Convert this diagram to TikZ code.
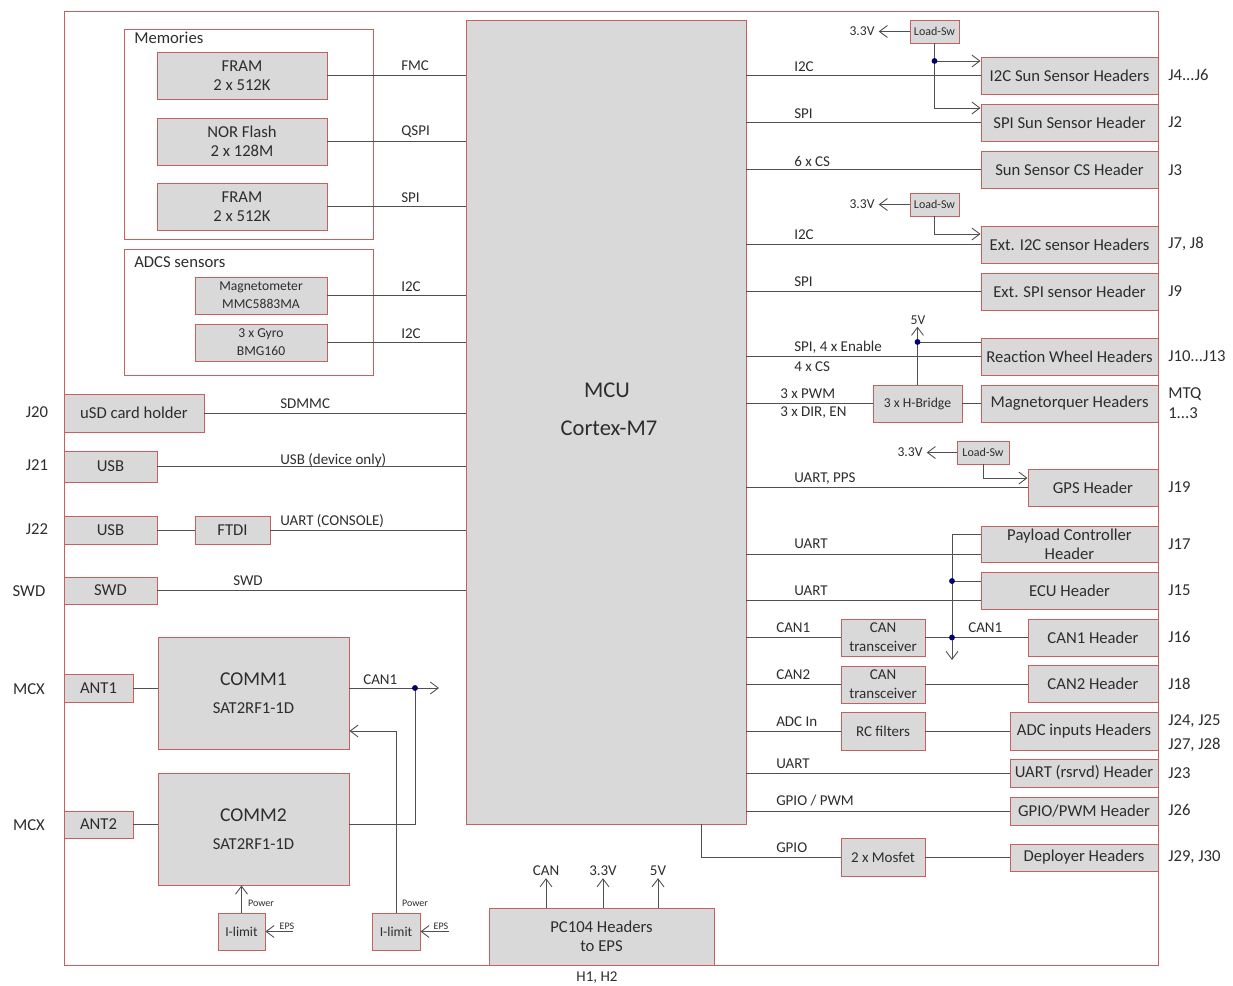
\documentclass[tikz,border=0pt]{standalone}
\usepackage{fontspec}
\setmainfont{Carlito}
\usetikzlibrary{arrows.meta}
\definecolor{bcol}{RGB}{196,96,96}
\definecolor{bfill}{RGB}{217,217,217}
\definecolor{lcol}{RGB}{80,80,80}
\definecolor{tcol}{RGB}{45,45,45}
\definecolor{dcol}{RGB}{0,0,110}
\newcommand\myfbox{\fontsize{12.5}{14.2}\selectfont}
\newcommand\myflab{\fontsize{11.25}{14}\selectfont}
\newcommand\myfmed{\fontsize{10.2}{13.5}\selectfont}
\newcommand\myfsml{\fontsize{9}{11}\selectfont}
\newcommand\myftny{\fontsize{7.5}{9}\selectfont}
\newcommand\myfbig{\fontsize{16.9}{20}\selectfont}
\newcommand\myfcomm{\fontsize{14.7}{17}\selectfont}
\newcommand\bx[7][]{\node[box,minimum width={(#5-#3)*0.75pt},minimum height={(#6-#4)*0.75pt},#1] (#2) at ({(#3+#5)/2},{(#4+#6)/2}) {#7};}
\begin{document}
\begin{tikzpicture}[x=0.75pt,y=-0.75pt,
  >={Straight Barb[length=6pt,width=9pt]},
  box/.style={draw=bcol,fill=bfill,line width=0.7pt,text=tcol,inner sep=1pt,align=center,font=\myfbox},
  grp/.style={draw=bcol,line width=0.7pt},
  ln/.style={draw=lcol,line width=0.65pt},
  arr/.style={ln,->},
  lab/.style={text=tcol,inner sep=0pt,anchor=west,font=\myflab},
  jl/.style={text=tcol,inner sep=0pt,font=\myfbox},
  jr/.style={text=tcol,inner sep=0pt,anchor=west,font=\myfbox},
  glab/.style={text=tcol,inner sep=0pt,anchor=west,font=\myfbox},
  vlab/.style={text=tcol,inner sep=3pt,font=\myfmed},
  blab/.style={text=tcol,inner sep=1.5pt,font=\myflab},
  tny/.style={text=tcol,inner sep=0pt,font=\myftny},
  dot/.style={fill=dcol}]
\useasboundingbox (0,0) rectangle (1233,986);
% outer frame and groups
\draw[grp] (64,11) rectangle (1158,965);
\draw[grp] (124,29) rectangle (373,239);
\node[glab] at (134,38) {Memories};
\draw[grp] (124,249) rectangle (373,375);
\node[glab] at (134,262) {ADCS sensors};
% MCU
\bx{mcu}{466}{20}{746}{824}{}
\node[text=tcol,font=\myfbig] at (607,390) {MCU};
\node[text=tcol,font=\myfbig] at (609,428) {Cortex-M7};
% left boxes
\bx{fram1}{157}{52}{327}{99}{FRAM\\2 x 512K}
\bx{nor}{157}{118}{327}{165}{NOR Flash\\2 x 128M}
\bx{fram2}{157}{183}{327}{230}{FRAM\\2 x 512K}
\bx[font=\myfmed]{mag}{195}{277}{327}{314}{Magnetometer\\MMC5883MA}
\bx[font=\myfmed]{gyro}{195}{324}{327}{361}{3 x Gyro\\BMG160}
\bx{usd}{64}{394}{204}{432}{uSD card holder}
\bx{usb1}{64}{451}{157}{482}{USB}
\bx{usb2}{64}{516}{157}{544}{USB}
\bx{ftdi}{195}{516}{270}{544}{FTDI}
\bx{swd}{64}{577}{157}{604}{SWD}
\bx{ant1}{64}{674}{133}{702}{ANT1}
\bx{ant2}{64}{811}{133}{838}{ANT2}
\bx{comm1}{158}{637}{349}{749}{{\myfcomm COMM1}\\[7pt]SAT2RF1-1D}
\bx{comm2}{158}{773}{349}{885}{{\myfcomm COMM2}\\[7pt]SAT2RF1-1D}
\bx[font=\myfmed]{il1}{218}{913}{265}{950}{I-limit}
\bx[font=\myfmed]{il2}{372}{913}{420}{950}{I-limit}
\bx{pc}{489}{908}{714}{965}{PC104 Headers\\to EPS}
% left connectors
\draw[ln] (fram1.east) -- (fram1.east -| mcu.west);
\draw[ln] (nor.east) -- (nor.east -| mcu.west);
\draw[ln] (fram2.east) -- (fram2.east -| mcu.west);
\draw[ln] (mag.east) -- (mag.east -| mcu.west);
\draw[ln] (gyro.east) -- (gyro.east -| mcu.west);
\draw[ln] (usd.east) -- (usd.east -| mcu.west);
\draw[ln] (usb1.east) -- (usb1.east -| mcu.west);
\draw[ln] (usb2.east) -- (ftdi.west);
\draw[ln] (ftdi.east) -- (ftdi.east -| mcu.west);
\draw[ln] (swd.east) -- (swd.east -| mcu.west);
\node[lab] at (401,66) {FMC};
\node[lab] at (401,132) {QSPI};
\node[lab] at (401,198) {SPI};
\node[lab] at (401,287) {I2C};
\node[lab] at (401,334) {I2C};
\node[lab] at (280,404) {SDMMC};
\node[lab] at (280,460) {USB (device only)};
\node[lab] at (280,521) {UART (CONSOLE)};
\node[lab] at (233,581) {SWD};
\node[jl] at (37,412) {J20};
\node[jl] at (37,465) {J21};
\node[jl] at (37,529) {J22};
\node[jl] at (29,591) {SWD};
\node[jl] at (29,689) {MCX};
\node[jl] at (29,825) {MCX};
% COMM connections
\coordinate (cdot) at (415,688);
\coordinate (ctip) at (439,688);
\draw[ln] (ant1.east) -- (ant1.east -| comm1.west);
\draw[ln] (ant2.east) -- (ant2.east -| comm2.west);
\draw[arr] (comm1.east |- cdot) -- (ctip);
\draw[ln] (cdot) |- (ant2.east -| comm2.east);
\fill[dot] (cdot) circle (2.2pt);
\node[lab] at (363,680) {CAN1};
\coordinate (c1pw) at ([yshift=-28.5pt]comm1.east);
\draw[arr] (il2.north) |- (c1pw);
\draw[arr] (il1.north) -- (il1.north |- comm2.south);
\coordinate (eps1) at ([xshift=21pt]il1.east);
\coordinate (eps2) at ([xshift=21.75pt]il2.east);
\draw[arr] (eps1) -- (il1.east);
\draw[arr] (eps2) -- (il2.east);
\node[tny] at (261,903) {Power};
\node[tny] at (415,903) {Power};
\node[tny] at (287,926) {EPS};
\node[tny] at (441,926) {EPS};
% PC104
\node[blab] (lcan) at (546,871) {CAN};
\node[blab] (l33) at (603,871) {3.3V};
\node[blab] (l5) at (658,871) {5V};
\draw[arr] (pc.north -| lcan) -- (lcan.south);
\draw[arr] (pc.north -| l33) -- (l33.south);
\draw[arr] (pc.north -| l5) -- (l5.south);
\node[blab] at (597,978) {H1, H2};
% right boxes
\bx{h1}{981}{57}{1158}{94}{I2C Sun Sensor Headers}
\bx{h2}{981}{104}{1158}{141}{SPI Sun Sensor Header}
\bx{h3}{981}{151}{1158}{188}{Sun Sensor CS Header}
\bx[font=\myfsml]{ls1}{910}{20}{959}{43}{Load-Sw}
\bx[font=\myfsml]{ls2}{910}{193}{959}{216}{Load-Sw}
\bx{h4}{981}{226}{1158}{263}{Ext. I2C sensor Headers}
\bx{h5}{981}{273}{1158}{310}{Ext. SPI sensor Header}
\bx{h6}{981}{338}{1158}{375}{Reaction Wheel Headers}
\bx[font=\myfmed]{hb}{873}{385}{962}{422}{3 x H-Bridge}
\bx{h7}{981}{385}{1158}{422}{Magnetorquer Headers}
\bx[font=\myfsml]{ls3}{957}{441}{1009}{464}{Load-Sw}
\bx{gps}{1028}{469}{1158}{506}{GPS Header}
\bx{pay}{981}{526}{1158}{562}{Payload Controller\\Header}
\bx{ecu}{981}{572}{1158}{609}{ECU Header}
\bx[font=\myflab]{ct1}{841}{619}{925}{656}{CAN\\transceiver}
\bx{c1h}{1028}{619}{1158}{656}{CAN1 Header}
\bx[font=\myflab]{ct2}{841}{666}{925}{703}{CAN\\transceiver}
\bx{c2h}{1028}{665}{1158}{702}{CAN2 Header}
\bx[font=\myflab]{rc}{841}{712}{925}{750}{RC filters}
\bx{adc}{1010}{712}{1158}{750}{ADC inputs Headers}
\bx{ur}{1010}{759}{1158}{787}{UART (rsrvd) Header}
\bx{gp}{1010}{797}{1158}{825}{GPIO/PWM Header}
\bx[font=\myflab]{mos}{841}{838}{925}{876}{2 x Mosfet}
\bx{dep}{1010}{844}{1158}{871}{Deployer Headers}
% right connectors
\draw[ln] (h1.west -| mcu.east) -- (h1.west);
\draw[ln] (h2.west -| mcu.east) -- (h2.west);
\draw[ln] (h3.west -| mcu.east) -- (h3.west);
\draw[ln] (h4.west -| mcu.east) -- (h4.west);
\draw[ln] (h5.west -| mcu.east) -- (h5.west);
\draw[ln] (h6.west -| mcu.east) -- (h6.west);
\draw[ln] (hb.west -| mcu.east) -- (hb.west);
\draw[ln] (hb.east) -- (hb.east -| h7.west);
\draw[ln] (gps.west -| mcu.east) -- (gps.west);
\coordinate (payin) at ([yshift=-7.5pt]pay.west);
\coordinate (paybus) at ([yshift=7.5pt]pay.west);
\coordinate (ecuin) at ([yshift=-7.1pt]ecu.west);
\coordinate (ecubus) at ([yshift=7.1pt]ecu.west);
\draw[ln] (payin -| mcu.east) -- (payin);
\draw[ln] (ecuin -| mcu.east) -- (ecuin);
\draw[ln] (ct1.west -| mcu.east) -- (ct1.west);
\draw[ln] (ct1.east) -- (ct1.east -| c1h.west);
\draw[ln] (ct2.west -| mcu.east) -- (ct2.west);
\draw[ln] (ct2.east) -- (ct2.east -| c2h.west);
\draw[ln] (rc.west -| mcu.east) -- (rc.west);
\draw[ln] (rc.east) -- (rc.east -| adc.west);
\draw[ln] (ur.west -| mcu.east) -- (ur.west);
\draw[ln] (gp.west -| mcu.east) -- (gp.west);
\coordinate (gpo) at (701,824);
\draw[ln] (gpo) |- (mos.west);
\draw[ln] (mos.east) -- (mos.east -| dep.west);
% bus
\coordinate (bend) at (952,660);
\draw[arr] (paybus) -| (bend);
\draw[ln] (bend |- ecubus) -- (ecubus);
\fill[dot] (bend |- ecubus) circle (2.2pt);
\fill[dot] (bend |- ct1.east) circle (2.2pt);
% load switches
\node[vlab] (v1) at (862,31) {3.3V};
\node[vlab] (v2) at (862,204) {3.3V};
\node[vlab] (v3) at (910,452) {3.3V};
\draw[arr] (ls1.west) -- (ls1.west -| v1.east);
\draw[arr] (ls2.west) -- (ls2.west -| v2.east);
\draw[arr] (ls3.west) -- (ls3.west -| v3.east);
\coordinate (h1p) at ([yshift=10.9pt]h1.west);
\coordinate (h2p) at ([yshift=10.9pt]h2.west);
\coordinate (h4p) at ([yshift=7.9pt]h4.west);
\coordinate (gpsp) at ([yshift=7.1pt]gps.west);
\draw[ln] (ls1.south) -- (ls1.south |- h1p);
\draw[arr] (ls1.south |- h1p) -- (h1p);
\draw[arr] (ls1.south |- h1p) |- (h2p);
\fill[dot] (ls1.south |- h1p) circle (2.2pt);
\draw[arr] (ls2.south) |- (h4p);
\draw[arr] (ls3.south) |- (gpsp);
% 5V
\coordinate (h6p) at ([yshift=10.9pt]h6.west);
\node[vlab,inner sep=1.5pt] (v5) at (918,320) {5V};
\draw[arr] (hb.north) -- (hb.north |- v5.south);
\draw[ln] (hb.north |- h6p) -- (h6p);
\fill[dot] (hb.north |- h6p) circle (2.2pt);
% right line labels
\node[lab] at (794,67) {I2C};
\node[lab] at (794,114) {SPI};
\node[lab] at (794,161) {6 x CS};
\node[lab] at (794,235) {I2C};
\node[lab] at (794,282) {SPI};
\node[lab] at (794,347) {SPI, 4 x Enable};
\node[lab] at (794,367) {4 x CS};
\node[lab] at (780,394) {3 x PWM};
\node[lab] at (780,413) {3 x DIR, EN};
\node[lab] at (794,479) {UART, PPS};
\node[lab] at (794,544) {UART};
\node[lab] at (794,591) {UART};
\node[lab] at (776,628) {CAN1};
\node[lab] at (968,628) {CAN1};
\node[lab] at (776,675) {CAN2};
\node[lab] at (776,722) {ADC In};
\node[lab] at (776,764) {UART};
\node[lab] at (776,801) {GPIO / PWM};
\node[lab] at (776,848) {GPIO};
% J labels right
\node[jr] at (1168,75) {J4...J6};
\node[jr] at (1168,122) {J2};
\node[jr] at (1168,170) {J3};
\node[jr] at (1168,244) {J7, J8};
\node[jr] at (1168,291) {J9};
\node[jr] at (1168,356) {J10...J13};
\node[jr] at (1168,394) {MTQ};
\node[jr] at (1168,413) {1...3};
\node[jr] at (1168,487) {J19};
\node[jr] at (1168,544) {J17};
\node[jr] at (1168,590) {J15};
\node[jr] at (1168,637) {J16};
\node[jr] at (1168,684) {J18};
\node[jr] at (1168,721) {J24, J25};
\node[jr] at (1168,745) {J27, J28};
\node[jr] at (1168,773) {J23};
\node[jr] at (1168,810) {J26};
\node[jr] at (1168,857) {J29, J30};
\end{tikzpicture}
\end{document}
